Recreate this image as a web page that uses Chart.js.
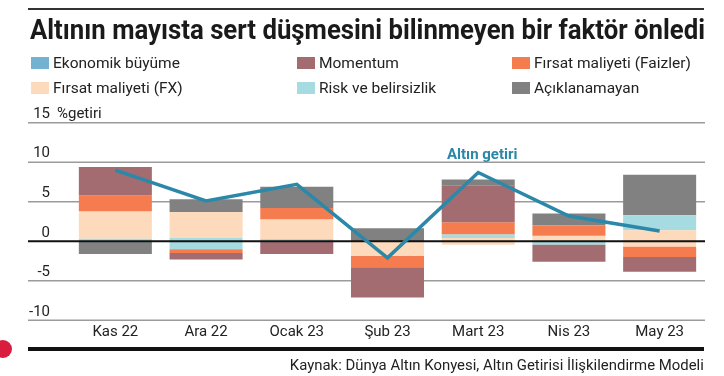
<!DOCTYPE html>
<html lang="tr">
<head>
<meta charset="utf-8">
<script src="https://cdn.jsdelivr.net/npm/chart.js@4.4.0/dist/chart.umd.min.js"></script>
<style>
  body { margin: 0; width: 724px; height: 376px; background: #fff; overflow: hidden; position: relative;
         font-family: Roboto, "Noto Sans", sans-serif; color: #222; }
  #wrap { position: absolute; left: 0; top: 0; width: 724px; height: 376px; }
  .rule-top { position: absolute; left: 28px; top: 8px; width: 676px; height: 2px; background: #333; }
  h1 { position: absolute; left: 30px; top: 16px; margin: 0; font-size: 28px; line-height: 28px; font-weight: 700;
       white-space: nowrap; transform-origin: left top; color: #1a1a1a; }
  .leg { position: absolute; display: flex; align-items: center; height: 20px; font-size: 15.5px; white-space: nowrap; }
  .leg i { display: inline-block; width: 18px; height: 12px; margin-right: 4px; }
  .rule-bottom { position: absolute; left: 28px; top: 347px; width: 676px; height: 4px; background: #111; }
  .dot { position: absolute; left: -6px; top: 340px; width: 18px; height: 18px; border-radius: 50%; background: #d81e3c; }
  .source { position: absolute; right: 20px; top: 356px; font-size: 14px; line-height: 18px; white-space: nowrap;
            transform-origin: right top; }
</style>
</head>
<body>
<div id="wrap"><canvas id="chart"></canvas></div>
<div class="rule-top"></div>
<h1 id="title">Altının mayısta sert düşmesini bilinmeyen bir faktör önledi</h1>
<div id="legend"></div>
<div class="rule-bottom"></div>
<div class="dot"></div>
<div class="source" id="source">Kaynak: Dünya Altın Konyesi, Altın Getirisi İlişkilendirme Modeli</div>
<script>
// months on the x axis
const months = ['Kas 22', 'Ara 22', 'Ocak 23', 'Şub 23', 'Mart 23', 'Nis 23', 'May 23'];
const yTicks = [-10, -5, 0, 5, 10, 15];

// each factor is a [from, to] segment (% getiri) per month
const ekonomikBuyume = [null, null, null, null, null, null, null];
const riskBelirsizlik = [[0, 0.35], [-1.0, 0.4], [0, 0.3], null, [0.4, 0.9], [-0.45, 0], [1.4, 3.3]];
const firsatFX = [[0.35, 3.8], [0.4, 3.7], [0.3, 2.8], [-1.85, 0], [-0.45, 0.4], [0, 0.7], [-0.7, 1.4]];
const firsatFaiz = [[3.8, 5.8], [-1.5, -1.0], [2.8, 4.2], [-3.3, -1.85], [0.9, 2.4], [0.7, 2.0], [-2.0, -0.7]];
const momentum = [[5.8, 9.4], [-2.3, -1.5], [-1.6, 0], [-7.1, -3.3], [2.4, 7.1], [-2.6, -0.45], [-3.85, -2.0]];
const aciklanamayan = [[-1.6, 0], [3.7, 5.3], [4.2, 6.9], [0, 1.65], [7.1, 7.8], [2.0, 3.5], [3.3, 8.4]];

const altinGetiri = [9.0, 5.1, 7.2, -2.1, 8.7, 3.2, 1.3];

const factors = [
  { label: 'Ekonomik büyüme', data: ekonomikBuyume, color: '#74b2d2' },
  { label: 'Momentum', data: momentum, color: '#a36c71' },
  { label: 'Fırsat maliyeti (Faizler)', data: firsatFaiz, color: '#f47c4f' },
  { label: 'Fırsat maliyeti (FX)', data: firsatFX, color: '#fcdabb' },
  { label: 'Risk ve belirsizlik', data: riskBelirsizlik, color: '#a5dbe1' },
  { label: 'Açıklanamayan', data: aciklanamayan, color: '#818181' }
];

// html legend, 3 columns x 2 rows
const legendPos = [[31, 53], [297, 53], [512, 53], [31, 78], [297, 78], [512, 78]];
const legendEl = document.getElementById('legend');
factors.forEach((f, i) => {
  const d = document.createElement('div');
  d.className = 'leg';
  d.style.left = legendPos[i][0] + 'px';
  d.style.top = legendPos[i][1] + 'px';
  d.innerHTML = '<i style="background:' + f.color + '"></i>' + f.label;
  legendEl.appendChild(d);
});

const axisPlugin = {
  id: 'axisPlugin',
  beforeDatasetsDraw(chart) {
    const ctx = chart.ctx;
    const y = chart.scales.y;
    ctx.save();
    ctx.strokeStyle = '#9b9b9b';
    ctx.lineWidth = 1.5;
    yTicks.forEach(v => {
      if (v === 0) return;
      const py = y.getPixelForValue(v);
      ctx.beginPath();
      ctx.moveTo(28, py);
      ctx.lineTo(chart.chartArea.right, py);
      ctx.stroke();
    });
    ctx.fillStyle = '#222';
    ctx.font = '15px Roboto';
    ctx.textAlign = 'right';
    ctx.textBaseline = 'middle';
    yTicks.forEach(v => {
      ctx.fillText(String(v), 50, y.getPixelForValue(v) - 8.5);
    });
    ctx.textAlign = 'left';
    ctx.fillText('%getiri', 57, y.getPixelForValue(15) - 8.5);
    ctx.restore();
  },
  beforeDatasetDraw(chart, args) {
    if (args.meta.type !== 'line') return;
    const ctx = chart.ctx;
    const py = chart.scales.y.getPixelForValue(0);
    ctx.save();
    ctx.strokeStyle = '#111';
    ctx.lineWidth = 2;
    ctx.beginPath();
    ctx.moveTo(28, py);
    ctx.lineTo(chart.chartArea.right, py);
    ctx.stroke();
    ctx.restore();
  },
  afterDatasetsDraw(chart) {
    const ctx = chart.ctx;
    const px = chart.scales.x.getPixelForValue(4);
    const py = chart.scales.y.getPixelForValue(10.9);
    ctx.save();
    ctx.fillStyle = '#2a87a8';
    ctx.font = 'bold 15px Roboto';
    ctx.textAlign = 'center';
    ctx.textBaseline = 'middle';
    ctx.fillText('Altın getiri', px + 4, py);
    ctx.restore();
  }
};

const datasets = factors.map(f => ({
  type: 'bar',
  label: f.label,
  data: f.data,
  backgroundColor: f.color,
  borderWidth: 0,
  categoryPercentage: 1,
  barPercentage: 0.805,
  order: 1
}));
datasets.push({
  type: 'line',
  label: 'Altın getiri',
  data: altinGetiri,
  borderColor: '#2b88a9',
  borderWidth: 3.5,
  pointRadius: 0,
  tension: 0,
  fill: false,
  order: 0
});

new Chart(document.getElementById('chart'), {
  type: 'bar',
  data: { labels: months, datasets: datasets },
  options: {
    responsive: true,
    maintainAspectRatio: false,
    animation: false,
    layout: { padding: { left: 70, right: 19, top: 122.7, bottom: 31.7 } },
    plugins: { legend: { display: false }, tooltip: { enabled: false } },
    scales: {
      x: {
        stacked: true,
        grid: { display: false, drawTicks: false },
        border: { display: false },
        ticks: { color: '#222', font: { family: 'Roboto', size: 15 }, padding: 3, maxRotation: 0 }
      },
      y: {
        stacked: false,
        display: false,
        min: -10,
        max: 15
      }
    }
  },
  plugins: [axisPlugin]
});

function fitWidth(el, w) {
  const r = el.getBoundingClientRect().width;
  el.style.transform = 'scaleX(' + (w / r) + ')';
}
fitWidth(document.getElementById('title'), 675);
fitWidth(document.getElementById('source'), 414);
</script>
</body>
</html>
